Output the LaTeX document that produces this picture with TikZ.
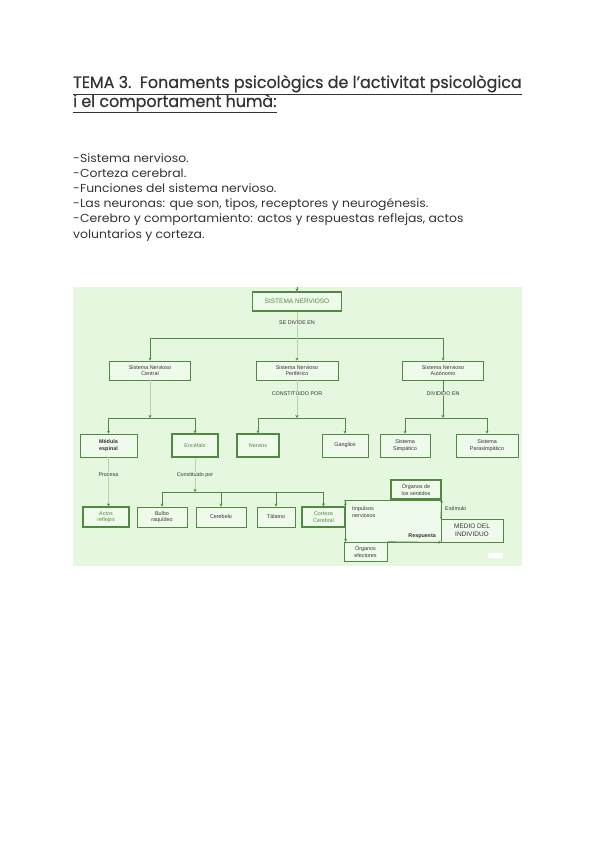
\documentclass[tikz,border=0pt]{standalone}
\usepackage{fontspec}
\setmainfont{Liberation Sans}
\newfontfamily\titlefont[FakeStretch=0.965,FakeBold=0.5]{Poppins}
\newfontfamily\bodyfont[FakeStretch=1.07]{Poppins}
\usetikzlibrary{arrows.meta}
\definecolor{bggreen}{HTML}{E6F7E0}
\definecolor{boxfill}{HTML}{EEFAEA}
\definecolor{dkgreen}{HTML}{4F8B3E}
\definecolor{ltgreen}{HTML}{B3D8A6}
\definecolor{txt}{HTML}{333333}
\definecolor{gtxt}{HTML}{4F8B3E}
\begin{document}
\begin{tikzpicture}[x=1pt,y=-1pt,
  bx/.style={draw=dkgreen, line width=0.6pt, fill=boxfill, inner sep=0pt, align=center,
     text=txt, font=\fontsize{5.4}{6.4}\selectfont},
  thick box/.style={bx, line width=1.3pt, text=gtxt},
  lbl/.style={inner sep=0.5pt, text=txt, font=\fontsize{5.4}{6.4}\selectfont, fill=bggreen},
  arr/.style={draw=dkgreen, line width=0.6pt, -{Stealth[length=3pt,width=3pt]}},
  ln/.style={draw=dkgreen, line width=0.6pt},
  stem/.style={draw=ltgreen, line width=0.6pt},
  stemarr/.style={draw=ltgreen, line width=0.6pt, -{Stealth[length=3pt,width=3pt,color=dkgreen]}},
  hd/.style={anchor=base west, inner sep=0pt, text=txt},
  ]
\useasboundingbox (0,0) rectangle (599,848);
\fill[white] (0,0) rectangle (599,848);

% title
\node[hd, font=\titlefont\fontsize{16.5}{19}\selectfont] (t1) at (73,88)
  {\underline{TEMA 3.\ \ Fonaments psicològics de l’activitat psicològica}};
\node[hd, font=\titlefont\fontsize{16.5}{19}\selectfont] (t2) at (73,107)
  {\underline{i el comportament humà:}};

% body
\begin{scope}[every node/.style={hd, font=\bodyfont\fontsize{11.6}{13}\selectfont}]
\node (b1) at (73,162) {-Sistema nervioso.};
\node (b2) at (73,177) {-Corteza cerebral.};
\node (b3) at (73,192) {-Funciones del sistema nervioso.};
\node (b4) at (73,207) {-Las neuronas: que son, tipos, receptores y neurogénesis.};
\node (b5) at (73,222) {-Cerebro y comportamiento: actos y respuestas reflejas, actos};
\node (b6) at (73,238) {voluntarios y corteza.};
\end{scope}

% diagram background
\fill[bggreen] (73,287) rectangle (522,566);
\fill[white] (488,553) rectangle (503,558);

% nodes
\node[thick box, minimum width=89pt, minimum height=19pt, font=\fontsize{6.5}{7.5}\selectfont] (sn) at (297,301.5) {SISTEMA NERVIOSO};
\coordinate (top) at (297,287);

\node[bx, minimum width=81pt, minimum height=19pt] (snc) at (150,370.5) {Sistema Nervioso\\Central};
\node[bx, minimum width=82pt, minimum height=19pt] (snp) at (297,370.5) {Sistema Nervioso\\Periférico};
\node[bx, minimum width=81pt, minimum height=19pt] (sna) at (443,370.5) {Sistema Nervioso\\Autónomo};

\node[bx, minimum width=57pt, minimum height=23pt, font=\bfseries\fontsize{5.4}{6.4}\selectfont] (med) at (108.5,445.5) {Médula\\espinal};
\node[thick box, minimum width=46pt, minimum height=23pt] (enc) at (195,445.5) {Encéfalo};
\node[thick box, minimum width=42pt, minimum height=23pt] (ner) at (258,445.5) {Nervios};
\node[bx, minimum width=46pt, minimum height=23pt] (gan) at (345,445.5) {Ganglios};
\node[bx, minimum width=50pt, minimum height=23pt] (sim) at (405,445.5) {Sistema\\Simpático};
\node[bx, minimum width=62pt, minimum height=23pt] (par) at (487,445.5) {Sistema\\Parasimpático};

\node[thick box, minimum width=46pt, minimum height=20pt] (act) at (106,517) {Actos\\reflejos};
\node[bx, minimum width=50pt, minimum height=20pt] (bul) at (162,517) {Bulbo\\raquídeo};
\node[bx, minimum width=50pt, minimum height=20pt] (cer) at (221,517) {Cerebelo};
\node[bx, minimum width=38pt, minimum height=20pt] (tal) at (276,517) {Tálamo};
\node[thick box, minimum width=43pt, minimum height=20pt] (cor) at (323.5,517) {Corteza\\Cerebral};

\node[bx, minimum width=96pt, minimum height=42pt] (imp) at (393,521) {};
\node[thick box, minimum width=50pt, minimum height=19pt, text=txt] (sen) at (416,489.5) {Órganos de\\los sentidos};
\node[bx, minimum width=43pt, minimum height=19pt] (efe) at (365.5,551.5) {Órganos\\efectores};
\node[bx, minimum width=62pt, minimum height=23pt, font=\fontsize{6.5}{7.7}\selectfont] (mdi) at (472,530.5) {MEDIO DEL\\INDIVIDUO};

\node[anchor=north west, inner sep=0pt, align=left, text=txt, font=\fontsize{5.4}{7}\selectfont] (imptx) at (352,506) {Impulsos\\nerviosos};
\node[anchor=east, inner sep=0pt, text=txt, font=\bfseries\fontsize{5.4}{6.4}\selectfont] (resp) at (436,536) {Respuesta};
\node[anchor=west, inner sep=0pt, text=txt, font=\fontsize{5.4}{6.4}\selectfont] (est) at (445,509) {Estímulo};

% level 1
\coordinate (j1) at (297,338);
\coordinate (j1l) at (150,338);
\coordinate (j1r) at (443,338);
\draw[stem] (sn.south) -- (j1);
\draw[arr] (top) -- (sn.north);
\draw[ln] (j1l) -- (j1r);
\draw[arr] (j1l) -- (snc.north);
\draw[stemarr] (j1) -- (snp.north);
\draw[arr] (j1r) -- (sna.north);
\node[lbl] (l1) at (297,323) {SE DIVIDE EN};

% SNC branch
\coordinate (j2) at (150,418);
\coordinate (j2l) at (108.5,418);
\coordinate (j2r) at (195,418);
\draw[stemarr] (snc.south) -- (j2);
\draw[ln] (j2l) -- (j2r);
\draw[arr] (j2l) -- (med.north);
\draw[arr] (j2r) -- (enc.north);

% SNP branch
\coordinate (j3) at (297,418);
\coordinate (j3l) at (258,418);
\coordinate (j3r) at (345,418);
\draw[stemarr] (snp.south) -- (j3);
\draw[ln] (j3l) -- (j3r);
\draw[arr] (j3l) -- (ner.north);
\draw[arr] (j3r) -- (gan.north);
\node[lbl] (l2) at (297,394) {CONSTITUIDO POR};

% SNA branch
\coordinate (j4) at (443,418);
\coordinate (j4l) at (405,418);
\coordinate (j4r) at (487,418);
\draw[arr, line width=0.8pt] (sna.south) -- (j4);
\draw[ln] (j4l) -- (j4r);
\draw[arr] (j4l) -- (sim.north);
\draw[arr] (j4r) -- (par.north);
\node[lbl] (l3) at (443,394) {DIVIDIDO EN};

% Medula -> actos
\draw[stemarr] (med.south) -- (med.south |- act.north);
\node[lbl] (l4) at (108.5,475) {Procesa};

% Encefalo branch
\coordinate (j5) at (195,492);
\coordinate (j5l) at (162,492);
\coordinate (j5r) at (323.5,492);
\draw[stemarr] (enc.south) -- (j5);
\draw[ln] (j5l) -- (j5r);
\draw[arr] (j5l) -- (bul.north);
\draw[arr] (cer.north |- j5) -- (cer.north);
\draw[arr] (tal.north |- j5) -- (tal.north);
\draw[arr] (j5r) -- (cor.north);
\node[lbl] (l5) at (195,475) {Constituido por};

% cycle
\draw[arr] (mdi.north west) -- (sen.south east);
\draw[arr] (imp.north west) -- (cor.north east);
\draw[arr] (cor.south east) -- (cor.south east |- efe.north);
\draw[arr] (efe.north east) -- (imp.south east);
\end{tikzpicture}
\end{document}
